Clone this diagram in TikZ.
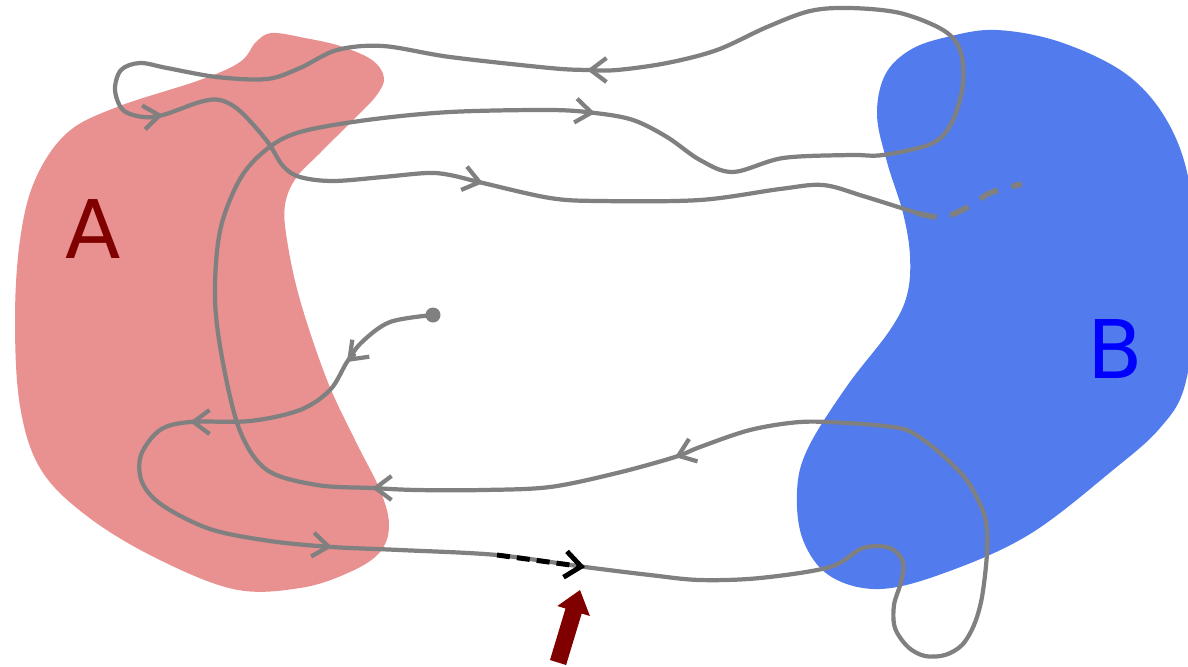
\documentclass[tikz,border=0pt]{standalone}
\usepackage{fontspec}
\setmainfont{DejaVu Sans}
\usetikzlibrary{arrows.meta}

\definecolor{regionA}{RGB}{233,144,144}
\definecolor{regionB}{RGB}{82,124,237}
\definecolor{labelA}{RGB}{128,0,0}
\definecolor{labelB}{RGB}{0,0,255}

\begin{document}
\begin{tikzpicture}[x=0.01cm, y=-0.01cm,
    orbit/.style={draw=gray, line width=1.2pt, line cap=round, line join=round},
    flow/.style={gray, line width=1.2pt, line cap=round, -{Straight Barb[length=1.6mm, width=2.4mm]}},
    region/.style={font=\fontsize{23}{23}\selectfont}]
    \useasboundingbox (0,0) rectangle (1188,666);

    \fill[regionA] plot[smooth cycle, tension=0.6] coordinates {
        (272,33) (305,38) (340,46) (372,60) (384,78) (376,96) (355,118)
        (320,153) (296,178) (285,205) (287,240) (300,300) (327,380)
        (355,440) (380,490) (389,525) (380,552) (350,572) (300,588)
        (233,589) (150,555) (83,513) (40,468) (20,406) (15,320) (20,240)
        (35,180) (67,133) (117,107) (200,80) (240,62) (256,42)};
    \fill[regionB] plot[smooth cycle, tension=0.6] coordinates {
        (997,30) (1063,43) (1130,77) (1172,130) (1192,200) (1195,300)
        (1185,385) (1160,428) (1113,470) (1030,534) (947,572) (880,589)
        (830,576) (803,540) (797,491) (808,448) (847,386) (890,330)
        (907,295) (910,256) (903,213) (887,162) (877,115) (885,75)
        (910,50) (947,37)};

    \node[region, text=labelA] (A) at (93,229) {A};
    \node[region, text=labelB] (B) at (1115,349) {B};

    \node[circle, fill=gray, inner sep=0pt, minimum size=0.15cm] (start) at (433,315) {};

    \draw[orbit] plot[smooth, tension=0.55] coordinates {
        (433,315) (390,322) (362,342) (347,362) (330,390) (300,410)
        (250,421) (190,422) (160,430) (141,455) (142,482) (162,505)
        (210,529) (270,541) (332,547) (400,550) (497,555) (585,567)
        (650,575) (700,580) (760,578) (830,567) (863,548) (890,548)
        (903,562) (901,582) (894,605) (895,628) (908,647) (925,656)
        (945,655) (962,645) (974,625) (982,597) (987,553) (986,522)
        (979,502) (965,478) (940,453) (913,433) (893,427) (847,423)
        (800,422) (750,430) (700,447) (675,457) (617,473) (550,487)
        (483,490) (417,490) (372,488) (317,485) (267,470) (240,431)
        (223,363) (215,299) (220,231) (240,179) (267,149) (300,132)
        (367,120) (450,112) (550,110) (595,113) (633,120) (667,137)
        (700,160) (733,172) (783,158) (850,155) (883,155) (933,143)
        (953,120) (963,83) (960,50) (943,30) (900,13) (850,8) (810,11)
        (767,27) (717,50) (667,63) (617,70) (587,70) (550,68) (450,57)
        (383,46) (337,50) (300,68) (267,79) (217,77) (167,68) (140,63)
        (121,70) (115,90) (123,110) (143,117) (163,115) (200,102)
        (220,100) (240,111) (267,141) (283,166) (300,177) (333,181)
        (383,177) (427,173) (450,175) (483,183) (550,198) (600,201)
        (700,200) (780,189) (823,185) (863,196) (917,213)};
    \draw[gray, line width=1.6pt, dash pattern=on 0.2cm off 0.14cm]
        plot[smooth, tension=0.6] coordinates {
        (917,213) (943,217) (970,206) (990,193) (1022,184)};

    \draw[flow] (354,355) -- (347,362);
    \draw[flow] (198,422) -- (190,422);
    \draw[flow] (324,546) -- (332,547);
    \draw[flow] (683,454) -- (675,457);
    \draw[flow] (380,488) -- (372,488);
    \draw[flow] (587,112) -- (595,113);
    \draw[flow] (595,70) -- (587,70);
    \draw[flow] (155,116) -- (163,115);
    \draw[flow] (475,181) -- (483,183);

    \draw[black, line width=1.4pt, dash pattern=on 0.13cm off 0.07cm,
        -{Straight Barb[length=1.6mm, width=2.6mm]}] (497,555) -- (585,567);

    \fill[labelA] (550,660) -- (565.5,608.5) -- (557.3,606) -- (580,590)
        -- (589.9,616) -- (581.7,613.5) -- (566.1,665) -- cycle;
\end{tikzpicture}
\end{document}
